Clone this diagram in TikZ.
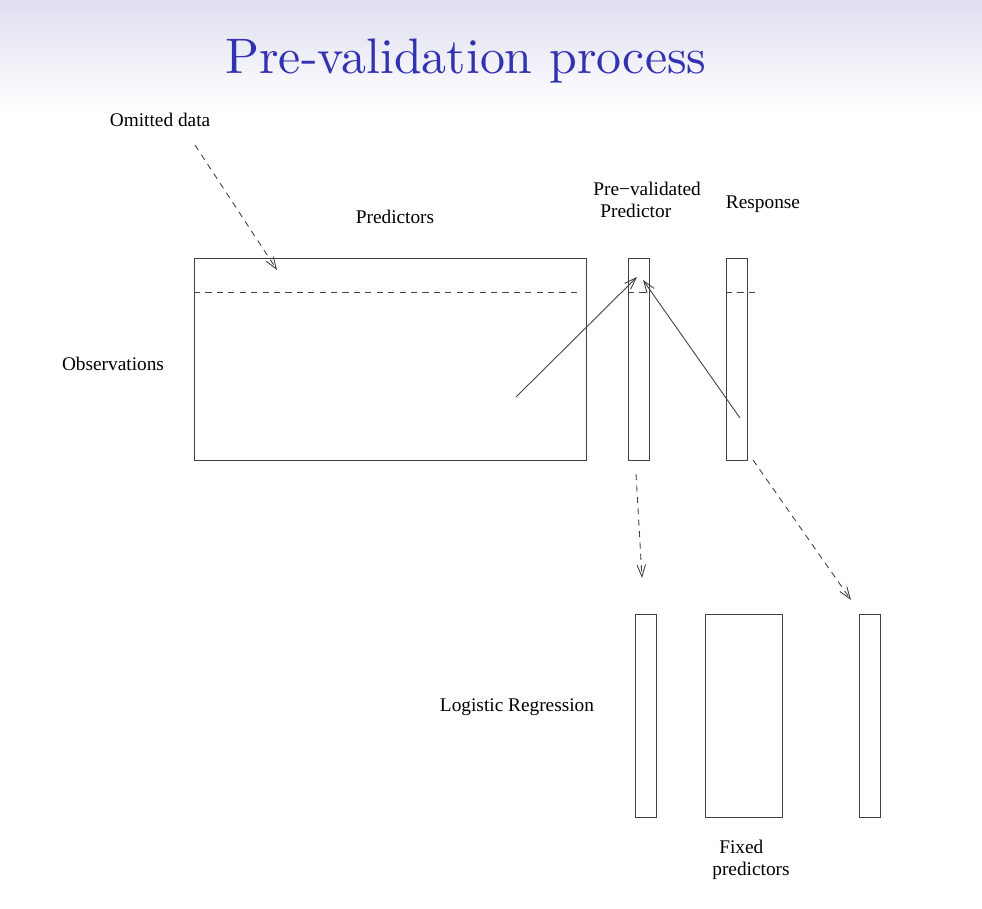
\documentclass[tikz,border=0pt]{standalone}
\usepackage{fontspec}
\newfontfamily\figfont{Liberation Serif}
\newfontfamily\titlefont{lmroman10-regular}[Extension=.otf]
\usepackage{tikz}
\usetikzlibrary{arrows.meta}
\definecolor{titleblue}{RGB}{51,51,178}
\definecolor{headtop}{RGB}{222,222,240}
\tikzset{
  lbl/.style = {font=\figfont\fontsize{11}{12.5}\selectfont, inner sep=0pt},
  ttl/.style = {font=\titlefont\fontsize{28.4}{32}\selectfont, text=titleblue,
    anchor=base, inner sep=0pt},
  mat/.style = {draw=black!75, line width=0.6pt, anchor=north west,
    inner sep=0pt},% data matrix
  colv/.style = {mat, minimum width=0.42cm, minimum height=4.04cm},% one column
  rowline/.style = {draw=black!75, line width=0.5pt,
    dash pattern=on 3.5pt off 3pt},% omitted row
  flow/.style = {->, draw=black!75, line width=0.5pt},
  dflow/.style = {flow, dash pattern=on 3.5pt off 3pt}
}
\begin{document}
\begin{tikzpicture}[x=0.02cm, y=-0.02cm,
  >={Straight Barb[length=2.4mm,width=1.7mm]}]
\useasboundingbox (0,0) rectangle (982,908);
\shade[top color=headtop, bottom color=white] (0,0) rectangle (982,110);
\node[ttl] (title) at (466,74) {Pre-validation process};

% upper row: data set
\node[mat, minimum width=7.84cm, minimum height=4.04cm] (pred) at (194,258) {};
\node[colv] (pv) at (628,258) {};
\node[colv] (resp) at (726,258) {};
% lower row: logistic regression
\node[colv, minimum height=4.06cm] (pvlow) at (635,614) {};
\node[mat, minimum width=1.54cm, minimum height=4.06cm] (fixed) at (705,614) {};
\node[colv, minimum height=4.06cm] (resplow) at (859,614) {};

% labels
\node[lbl] (omit) at (160,120) {Omitted data};
\node[lbl] (predlbl) at (395,217) {Predictors};
\node[lbl] (obs) at (113,364) {Observations};
\node[lbl, align=left, anchor=north west] (pvlbl) at (593,182)
  {Pre−validated\\\hspace{0.14cm}Predictor};
\node[lbl] (resplbl) at (763,204) {Response};
\node[lbl] (logreg) at (517,707) {Logistic Regression};
\node[lbl, align=left, anchor=north west] (fixlbl) at (712,840)
  {\hspace{0.14cm}Fixed\\predictors};

% omitted row
\coordinate (rowA) at (194,292);
\coordinate (rowB) at (580,292);
\coordinate (rowC) at (755,292);
\draw[rowline] (rowA) -- (rowB);
\draw[rowline] (pv.west |- rowA) -- (pv.east |- rowA);
\draw[rowline] (resp.west |- rowA) -- (rowC);

% arrows
\coordinate (omitA) at (195,145);
\coordinate (omitB) at (277,270);
\coordinate (fitA) at (516,397);
\coordinate (fitB) at (637,277);
\coordinate (ansA) at (740,418);
\coordinate (ansB) at (643,280);
\coordinate (pvA) at (636,474);
\coordinate (pvB) at (642,578);
\coordinate (rsA) at (753,460);
\coordinate (rsB) at (851,600);
\draw[dflow] (omitA) -- (omitB);
\draw[flow] (fitA) -- (fitB);
\draw[flow] (ansA) -- (ansB);
\draw[dflow] (pvA) -- (pvB);
\draw[dflow] (rsA) -- (rsB);
\end{tikzpicture}
\end{document}
